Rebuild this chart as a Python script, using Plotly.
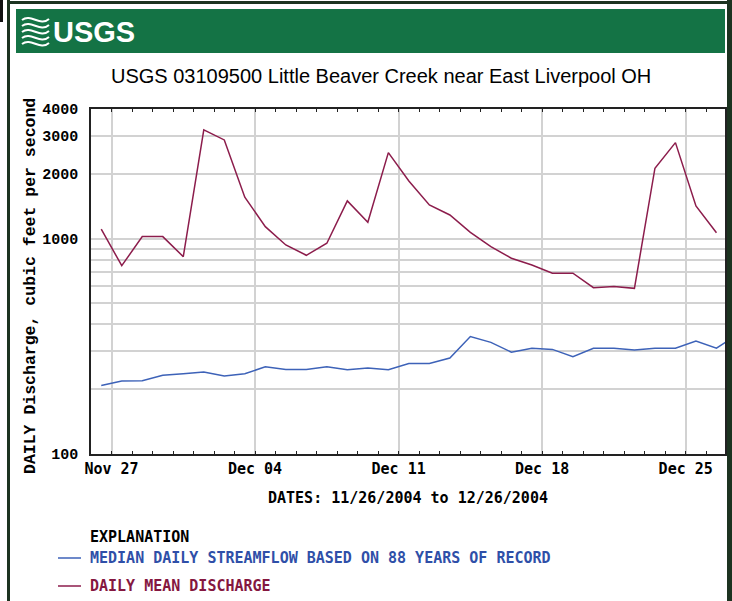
import pandas as pd
import plotly.graph_objects as go

# ---- data ----
days = ["2004-11-26", "2004-11-27", "2004-11-28", "2004-11-29", "2004-11-30",
        "2004-12-01", "2004-12-02", "2004-12-03", "2004-12-04", "2004-12-05",
        "2004-12-06", "2004-12-07", "2004-12-08", "2004-12-09", "2004-12-10",
        "2004-12-11", "2004-12-12", "2004-12-13", "2004-12-14", "2004-12-15",
        "2004-12-16", "2004-12-17", "2004-12-18", "2004-12-19", "2004-12-20",
        "2004-12-21", "2004-12-22", "2004-12-23", "2004-12-24", "2004-12-25",
        "2004-12-26", "2004-12-27"]
daily_mean = [1106, 749, 1022, 1022, 825, 3198, 2873, 1557, 1137, 935,
              837, 952, 1497, 1192, 2508, 1854, 1434, 1288, 1070, 918,
              811, 755, 691, 691, 592, 599, 588, 2123, 2792, 1419, 1066]
median_flow = [208, 218, 219, 232, 236, 240, 230, 236, 254, 247,
               247, 254, 246, 251, 246, 263, 263, 279, 351, 330,
               297, 310, 306, 283, 310, 310, 304, 310, 310, 335, 310, 357]
y_tickvals = [100, 200, 300, 400, 500, 600, 700, 800, 900, 1000, 2000, 3000, 4000]
y_ticktext = ["100", "", "", "", "", "", "", "", "", "1000", "2000", "3000", "4000"]

title_text = "USGS 03109500 Little Beaver Creek near East Liverpool OH"
ytitle_text = "DAILY Discharge, cubic feet per second"
xtitle_text = "DATES: 11/26/2004 to 12/26/2004"
legend_head = "EXPLANATION"
median_name = "MEDIAN DAILY STREAMFLOW BASED ON 88 YEARS OF RECORD"
mean_name = "DAILY MEAN DISCHARGE"

RED = "#8c1d4c"
BLUE = "#3d62b8"
GREEN = "#147345"
DARK = "#1c3320"

W, H = 732, 601
L, R, T, B = 91, 725, 109, 454


def px(x):
    return (x - L) / (R - L)


def py(y):
    return (B - y) / (B - T)


x_dates = [pd.Timestamp(d) + pd.Timedelta(hours=12) for d in days]

fig = go.Figure()
fig.add_trace(go.Scatter(x=x_dates[:len(median_flow)], y=median_flow, mode="lines",
                         line=dict(color=BLUE, width=1.5), name=median_name))
fig.add_trace(go.Scatter(x=x_dates[:len(daily_mean)], y=daily_mean, mode="lines",
                         line=dict(color=RED, width=1.5), name=mean_name))

mono_b = "Liberation Mono"
sans_m = "DejaVu Sans Mono"

fig.update_layout(
    width=W, height=H,
    margin=dict(l=L, r=W - R, t=T, b=H - B, pad=0, autoexpand=False),
    paper_bgcolor="white", plot_bgcolor="white",
    showlegend=False,
    xaxis=dict(
        type="date", automargin=False,
        range=["2004-11-26 00:00", "2004-12-26 22:00"],
        tick0="2004-11-27", dtick=7 * 86400000,
        tickformat="%b %d",
        showgrid=True, gridcolor="#d2d2d2", gridwidth=1.5,
        showline=True, linecolor="#222", linewidth=1.5, mirror="ticks",
        ticks="inside", ticklen=3, tickcolor="#222",
        minor=dict(dtick=86400000, tick0="2004-11-26", ticks="inside", ticklen=3,
                   tickcolor="#222", showgrid=False),
        tickfont=dict(family=sans_m, size=15, color="black", weight="bold"),
        zeroline=False, fixedrange=True,
    ),
    yaxis=dict(
        type="log", automargin=False,
        range=[2, 3.60206],
        tickvals=y_tickvals, ticktext=y_ticktext,
        showgrid=True, gridcolor="#d2d2d2", gridwidth=1.5,
        showline=True, linecolor="#222", linewidth=1.5, mirror=True,
        ticks="", ticklabelstandoff=8,
        tickfont=dict(family=mono_b, size=15, color="black", weight="bold"),
        zeroline=False, fixedrange=True,
    ),
)

shapes = []
# outer frame
shapes.append(dict(type="rect", xref="paper", yref="paper",
                   x0=px(7), x1=px(10), y0=py(601), y1=py(0),
                   fillcolor=DARK, line=dict(width=0), layer="above"))
shapes.append(dict(type="rect", xref="paper", yref="paper",
                   x0=px(727), x1=px(732), y0=py(601), y1=py(0),
                   fillcolor=DARK, line=dict(width=0), layer="above"))
shapes.append(dict(type="rect", xref="paper", yref="paper",
                   x0=px(7), x1=px(732), y0=py(4), y1=py(1),
                   fillcolor=DARK, line=dict(width=0), layer="above"))
shapes.append(dict(type="rect", xref="paper", yref="paper",
                   x0=px(0), x1=px(3), y0=py(22), y1=py(0),
                   fillcolor="#111", line=dict(width=0), layer="above"))
# banner
shapes.append(dict(type="rect", xref="paper", yref="paper",
                   x0=px(16), x1=px(725), y0=py(53), y1=py(9),
                   fillcolor=GREEN, line=dict(width=0), layer="above"))
# logo waves
for i in range(5):
    y0 = 20 + i * 6
    path = "M {},{} C {},{} {},{} {},{}".format(
        px(22), py(y0), px(31), py(y0 - 7), px(40), py(y0 + 7), px(49), py(y0 - 1))
    shapes.append(dict(type="path", xref="paper", yref="paper", path=path,
                       line=dict(color="white", width=2), layer="above"))
# legend lines
shapes.append(dict(type="line", xref="paper", yref="paper",
                   x0=px(58), x1=px(81), y0=py(558), y1=py(558),
                   line=dict(color=BLUE, width=1.5)))
shapes.append(dict(type="line", xref="paper", yref="paper",
                   x0=px(58), x1=px(81), y0=py(586), y1=py(586),
                   line=dict(color=RED, width=1.5)))

annotations = [
    dict(text="USGS", x=px(51), y=py(32), xref="paper", yref="paper",
         xanchor="left", yanchor="middle", showarrow=False,
         font=dict(family="Liberation Sans Narrow, Arial Narrow, Liberation Sans", size=29,
                   color="white", weight="bold")),
    dict(text=title_text, x=px(381), y=py(76), xref="paper", yref="paper",
         xanchor="center", yanchor="middle", showarrow=False,
         font=dict(family="Liberation Sans Narrow, Arial Narrow, Liberation Sans", size=20,
                   color="black")),
    dict(text=ytitle_text, x=px(30), y=py(286), xref="paper", yref="paper",
         xanchor="center", yanchor="middle", showarrow=False, textangle=-90,
         font=dict(family=mono_b, size=16.5, color="black", weight="bold")),
    dict(text=xtitle_text, x=px(408), y=py(498), xref="paper", yref="paper",
         xanchor="center", yanchor="middle", showarrow=False,
         font=dict(family=sans_m, size=15, color="black", weight="bold")),
    dict(text=legend_head, x=px(88), y=py(537), xref="paper", yref="paper",
         xanchor="left", yanchor="middle", showarrow=False,
         font=dict(family=sans_m, size=15, color="black", weight="bold")),
    dict(text=median_name, x=px(88), y=py(558), xref="paper", yref="paper",
         xanchor="left", yanchor="middle", showarrow=False,
         font=dict(family=sans_m, size=15, color="#2f4fa8", weight="bold")),
    dict(text=mean_name, x=px(88), y=py(586), xref="paper", yref="paper",
         xanchor="left", yanchor="middle", showarrow=False,
         font=dict(family=sans_m, size=15, color="#85173f", weight="bold")),
]

fig.update_layout(shapes=shapes, annotations=annotations)
fig.write_html("out.html", config={"displayModeBar": False},
               post_script="document.body.style.margin='0';document.body.style.padding='0';")
